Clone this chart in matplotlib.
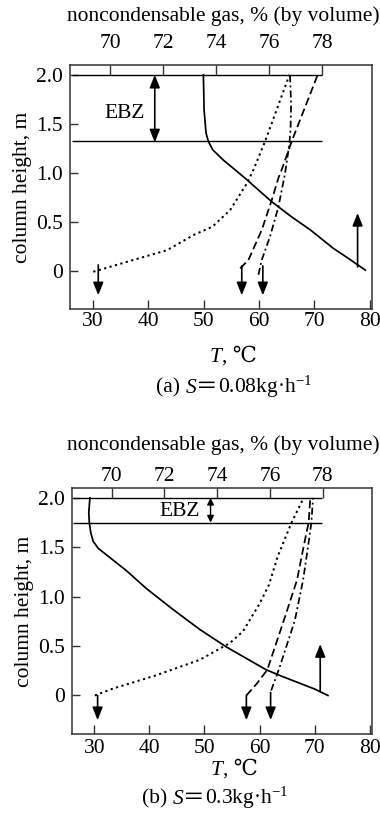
import matplotlib
matplotlib.use("Agg")
import matplotlib.pyplot as plt
from matplotlib.offsetbox import TextArea, HPacker, AnnotationBbox

plt.rcParams['font.family'] = ['Liberation Serif', 'DejaVu Serif', 'Noto Sans CJK SC']
plt.rcParams['mathtext.fontset'] = 'custom'
plt.rcParams['mathtext.rm'] = 'Liberation Serif'
plt.rcParams['mathtext.it'] = 'Liberation Serif:italic'

# ---------------- data: panel (a) ----------------
solid_a_T = [49.97, 50.1, 50.45, 50.87, 51.66, 53.57, 57.5, 62.3, 65.9, 69.3, 73.4, 76.3, 79.2]
solid_a_h = [2.0, 1.64, 1.405, 1.32, 1.234, 1.13, 0.945, 0.705, 0.55, 0.416, 0.23, 0.12, 0.007]
dotted_a_T = [30.1, 37.3, 43.4, 48.2, 51.6, 54.8, 57.8, 59.0, 61.1, 63.3, 65.5]
dotted_a_h = [-0.01, 0.11, 0.21, 0.365, 0.45, 0.62, 0.89, 1.03, 1.32, 1.66, 2.0]
dashed_a_T = [56.6, 58.1, 60.5, 62.3, 63.5, 64.1, 65.9, 70.6]
dashed_a_h = [0.025, 0.11, 0.416, 0.72, 0.945, 1.03, 1.32, 2.0]
dashdot_a_T = [59.9, 60.5, 62.0, 63.5, 64.7, 65.5, 65.7, 65.8, 65.6]
dashdot_a_h = [-0.04, 0.11, 0.35, 0.65, 0.99, 1.3, 1.45, 1.7, 2.0]
down_a_T = [31.0, 56.9, 60.7]
up_a_T = 77.8
ebz_a = (41.2, 2.0, 1.31)   # x, top, bottom
ebz_a_line = 1.32

# ---------------- data: panel (b) ----------------
solid_b_T = [29.2, 29.0, 29.1, 29.35, 29.8, 30.7, 35.9, 39.5, 44.3, 49.1, 54.0, 61.2, 64.0, 67.0, 70.0, 72.4]
solid_b_h = [2.0, 1.85, 1.75, 1.65, 1.56, 1.49, 1.26, 1.08, 0.87, 0.67, 0.49, 0.26, 0.195, 0.13, 0.065, 0.0]
dotted_b_T = [30.1, 33.4, 41.0, 49.1, 54.6, 57.0, 60.0, 61.7, 63.3, 65.8, 67.9]
dotted_b_h = [0.0, 0.07, 0.2, 0.36, 0.53, 0.65, 0.93, 1.12, 1.41, 1.75, 1.99]
dashed_b_T = [57.6, 59.5, 61.4, 64.4, 66.8, 68.0, 68.9, 69.2]
dashed_b_h = [0.0, 0.12, 0.26, 0.76, 1.17, 1.51, 1.75, 2.0]
dashdot_b_T = [62.1, 63.6, 66.4, 67.9, 68.8, 69.4, 69.7]
dashdot_b_h = [0.05, 0.28, 0.76, 1.17, 1.51, 1.75, 2.0]
down_b_T = [30.6, 57.6, 62.0]
up_b_T = 71.0
ebz_b = (51.1, 2.0, 1.75)
ebz_b_line = 1.75

x_ticks = [30, 40, 50, 60, 70, 80]
gas_ticks = [70, 72, 74, 76, 78]
y_ticks = [0, 0.5, 1.0, 1.5, 2.0]
y_ticklabels = ['0', '0.5', '1.0', '1.5', '2.0']

FS = 15.5
LW = 1.25
DOT = (0, (1.1, 1.7))
DASH = (0, (4.6, 2.2))
DASHDOT = (0, (4.0, 1.8, 1.1, 1.8))
SPINE_C = '#333333'

fig = plt.figure(figsize=(3.8, 8.23), dpi=100)


def packed_text(parts, xy):
    areas = [TextArea(s, textprops=dict(fontsize=FS, **kw)) for s, kw in parts]
    box = HPacker(children=areas, align='baseline', pad=0, sep=0)
    ab = AnnotationBbox(box, xy, xycoords='figure fraction', frameon=False,
                        box_alignment=(0.5, 0.5), pad=0)
    fig.add_artist(ab)


def make_panel(rect, curves, downs, down_y0, up, up_rng, ebz, ebz_line, ebz_text_xy, ebz_big,
               cap_parts, cap_xy, tlab_xy, gas_y, top_pad, bottom_pad):
    ax = fig.add_axes(rect)
    ax.set_xlim(25.9, 80.4)
    ax.set_ylim(-0.39, 2.10)
    for s in ax.spines.values():
        s.set_color(SPINE_C)
        s.set_linewidth(1.1)
    ax.set_xticks(x_ticks)
    ax.set_yticks(y_ticks)
    ax.set_yticklabels(y_ticklabels)
    ax.tick_params(axis='x', direction='in', length=6.5, width=1.0, labelsize=FS,
                   pad=bottom_pad, color=SPINE_C, top=False)
    ax.tick_params(axis='y', direction='in', length=5.5, width=1.0, labelsize=FS, pad=5,
                   color=SPINE_C, right=False)
    ax.set_ylabel('column height, m', fontsize=FS, labelpad=3)

    ax2 = ax.twiny()
    ax2.set_xlim(68.49, 79.87)
    ax2.set_xticks(gas_ticks)
    ax2.tick_params(axis='x', direction='in', length=7.3, width=1.0, labelsize=FS,
                    pad=top_pad, color=SPINE_C)
    for s in ax2.spines.values():
        s.set_visible(False)

    (sT, sh), (dT, dh), (eT, eh), (fT, fh) = curves
    ax.plot(sT, sh, color='black', lw=LW)
    ax.plot(dT, dh, color='black', lw=LW + 0.2, linestyle=DOT)
    ax.plot(eT, eh, color='black', lw=LW, linestyle=DASH)
    ax.plot(fT, fh, color='black', lw=LW, linestyle=DASHDOT)

    ax.hlines([2.0, ebz_line], 26.2, 71.4, color='black', lw=1.0)

    arrow_kw = dict(arrowstyle='-|>,head_length=0.55,head_width=0.22', color='black',
                    lw=1.2, mutation_scale=14, shrinkA=0, shrinkB=0)
    for t, y0 in zip(downs, down_y0):
        ax.annotate('', xy=(t, -0.25), xytext=(t, y0), arrowprops=arrow_kw)
    ax.annotate('', xy=(up, up_rng[1]), xytext=(up, up_rng[0]), arrowprops=arrow_kw)

    ex, etop, ebot = ebz
    if ebz_big:
        ebz_kw = dict(arrowstyle='<|-|>,head_length=0.55,head_width=0.22', color='black',
                      lw=1.2, mutation_scale=14, shrinkA=0, shrinkB=0)
    else:
        ebz_kw = dict(arrowstyle='<|-|>,head_length=0.4,head_width=0.2', color='black',
                      lw=1.0, mutation_scale=10, shrinkA=0, shrinkB=0)
    ax.annotate('', xy=(ex, etop), xytext=(ex, ebot), arrowprops=ebz_kw)
    ax.text(ebz_text_xy[0], ebz_text_xy[1], 'EBZ', fontsize=FS, ha='center', va='center')

    fig.text(0.587, gas_y, 'noncondensable gas, % (by volume)', fontsize=FS,
             ha='center', va='center')
    packed_text([('T', dict(style='italic')), (', ℃', {})], tlab_xy)
    packed_text(cap_parts, cap_xy)
    return ax


make_panel([70/380, 1 - 309/823, 302/380, 244/823],
           [(solid_a_T, solid_a_h), (dotted_a_T, dotted_a_h),
            (dashed_a_T, dashed_a_h), (dashdot_a_T, dashdot_a_h)],
           down_a_T, [0.06, 0.05, 0.05], up_a_T, (0.04, 0.59),
           ebz_a, ebz_a_line, (35.8, 1.61), True,
           [('(a) ', {}), ('S', dict(style='italic')), ('＝', {}),
            (r'0.08kg·h$^{-1}$', {})],
           (0.616, 1 - 387/823), (0.613, 1 - 357/823), 1 - 16/823, 8.5, 2)

make_panel([71.7/380, 1 - 734/823, 300.3/380, 246/823],
           [(solid_b_T, solid_b_h), (dotted_b_T, dotted_b_h),
            (dashed_b_T, dashed_b_h), (dashdot_b_T, dashdot_b_h)],
           down_b_T, [0.0, 0.0, 0.03], up_b_T, (0.04, 0.52),
           ebz_b, ebz_b_line, (45.5, 1.86), False,
           [('(b) ', {}), ('S', dict(style='italic')), ('＝', {}),
            (r'0.3kg·h$^{-1}$', {})],
           (0.566, 1 - 798/823), (0.616, 1 - 770/823), 1 - 445/823, 1.5, 3.5)

fig.savefig('out.png', dpi=100)
